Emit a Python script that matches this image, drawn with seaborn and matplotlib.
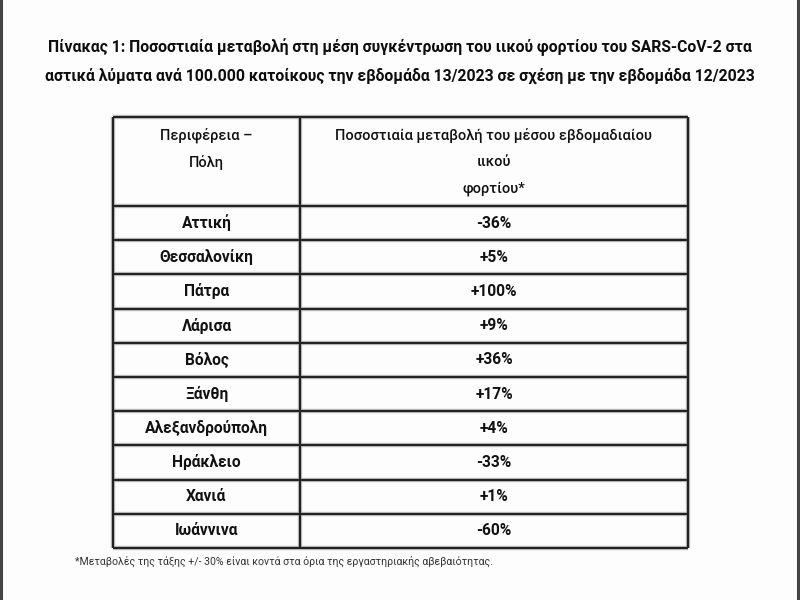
import matplotlib
matplotlib.use("Agg")
import matplotlib.pyplot as plt
import seaborn as sns

# table data
regions = ["Αττική", "Θεσσαλονίκη", "Πάτρα", "Λάρισα", "Βόλος", "Ξάνθη",
           "Αλεξανδρούπολη", "Ηράκλειο", "Χανιά", "Ιωάννινα"]
changes = [-36, 5, 100, 9, 36, 17, 4, -33, 1, -60]

col_header_left = ["Περιφέρεια –", "Πόλη"]
col_header_right = ["Ποσοστιαία μεταβολή του μέσου εβδομαδιαίου", "ιικού", "φορτίου*"]
title_lines = [
    "Πίνακας 1: Ποσοστιαία μεταβολή στη μέση συγκέντρωση του ιικού φορτίου του SARS-CoV-2 στα",
    "αστικά λύματα ανά 100.000 κατοίκους την εβδομάδα 13/2023 σε σχέση με την εβδομάδα 12/2023",
]
footnote = "*Μεταβολές της τάξης +/- 30% είναι κοντά στα όρια της εργαστηριακής αβεβαιότητας."

sns.set_theme(style="white")
plt.rcParams['font.family'] = ['Roboto', 'DejaVu Sans']

fig = plt.figure(figsize=(8, 6), dpi=100)
fig.patch.set_facecolor('#fdfdfd')

# grey page edges
for xe in (0.0015, 0.9975):
    fig.add_artist(plt.Line2D([xe, xe], [0, 1], transform=fig.transFigure,
                              color='#444444', lw=2.2))

# title
fig.text(0.5, 1 - 47 / 600, title_lines[0], ha='center', va='center',
         fontsize=11.3, fontweight='bold', color='#0d0d0d')
fig.text(0.5, 1 - 76 / 600, title_lines[1], ha='center', va='center',
         fontsize=11.3, fontweight='bold', color='#0d0d0d')

# table axes
ax = fig.add_axes([113 / 800, 1 - 548 / 600, 575 / 800, 431 / 600])
n = len(regions)
H = 2.6          # header height in row units
split = 0.325    # column divider
ax.set_xlim(0, 1)
ax.set_ylim(H + n, 0)
ax.axis('off')

bounds = [0, H] + [H + i + 1 for i in range(n)]
ax.hlines(bounds, 0, 1, color='#c8c8c8', lw=3.2, clip_on=False)
ax.vlines([0, split, 1], 0, H + n, color='#c8c8c8', lw=3.2, clip_on=False)
ax.hlines(bounds, 0, 1, color='#222222', lw=1.6, clip_on=False)
ax.vlines([0, split, 1], 0, H + n, color='#222222', lw=1.6, clip_on=False)

# header text
for k, line in enumerate(col_header_left):
    ax.text(split / 2, 0.53 + 0.79 * k, line, ha='center', va='center',
            fontsize=10.5, fontweight='medium', color='#111111')
for k, line in enumerate(col_header_right):
    ax.text((1 + split) / 2, 0.53 + 0.79 * k, line, ha='center', va='center',
            fontsize=10.5, fontweight='medium', color='#111111')

# rows
for i, (r, v) in enumerate(zip(regions, changes)):
    y = H + i + 0.5
    ax.text(split / 2, y, r, ha='center', va='center', fontsize=11.2,
            fontweight='bold', color='#111111')
    ax.text((1 + split) / 2, y, f"{v:+d}%", ha='center', va='center',
            fontsize=11.2, fontweight='bold', color='#111111')

# footnote
fig.text(75 / 800, 1 - 561 / 600, footnote, ha='left', va='center',
         fontsize=7.6, color='#333333')

fig.savefig("out.png", dpi=100, facecolor=fig.get_facecolor())
